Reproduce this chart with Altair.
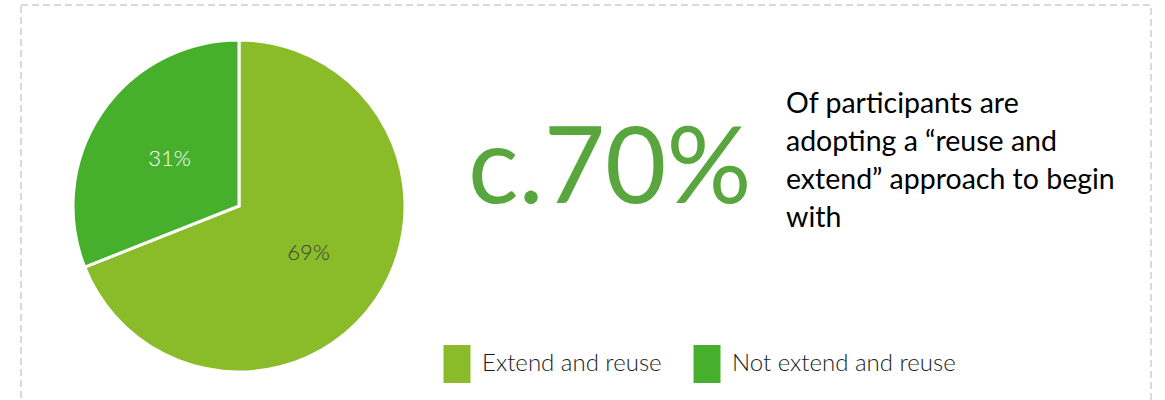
import altair as alt
import pandas as pd

categories = ["Extend and reuse", "Not extend and reuse"]
shares = [69, 31]
slice_labels = ["69%", "31%"]
colors = ["#8abb28", "#46b02c"]
headline = "c.70%"
blurb = ["Of participants are", "adopting a \u201creuse and", "extend\u201d approach to begin", "with"]

df = pd.DataFrame({
    "category": categories,
    "share": shares,
    "label": slice_labels,
    "order": list(range(len(categories))),
})
one = pd.DataFrame({"k": [0]})

frame = alt.Chart(one).mark_rect(
    fillOpacity=0, stroke="#d9d9d9", strokeWidth=2, strokeDash=[7, 4]
).encode(x=alt.value(21), x2=alt.value(1151), y=alt.value(5), y2=alt.value(430))

base = alt.Chart(df).encode(
    theta=alt.Theta("share:Q", stack=True),
    order=alt.Order("order:Q"),
)

pie = base.mark_arc(outerRadius=166, stroke="white", strokeWidth=3).encode(
    color=alt.Color(
        "category:N",
        scale=alt.Scale(domain=categories, range=colors),
        legend=alt.Legend(
            title=None,
            orient="none",
            legendX=438,
            legendY=345,
            direction="horizontal",
            symbolType="M-0.71,-1H0.71V1H-0.71Z",
            symbolSize=1444,
            symbolStrokeWidth=0,
            symbolOpacity=1,
            labelFontSize=24,
            labelFont="Lato",
            labelFontWeight=300,
            labelColor="#1a1a1a",
            labelOffset=6,
            columnPadding=26,
            labelLimit=400,
        ),
    ),
    x=alt.value(239),
    y=alt.value(206),
)

labels = base.mark_text(radius=84, fontSize=22, font="Lato", fontWeight=300).encode(
    text="label:N",
    color=alt.condition(
        alt.datum.category == categories[1], alt.value("white"), alt.value("#404040")
    ),
    x=alt.value(239),
    y=alt.value(206),
)

big = alt.Chart(one).mark_text(
    text=headline, fontSize=106, font="Lato", color="#5aa63e",
    align="left", baseline="alphabetic",
).encode(x=alt.value(468), y=alt.value(203))

para = alt.Chart(one).mark_text(
    text=blurb, fontSize=28.5, font="Lato", color="#000000",
    align="left", baseline="alphabetic", lineHeight=38,
).encode(x=alt.value(786), y=alt.value(113))

chart = alt.layer(frame, pie, labels, big, para).properties(
    width=1165, height=400, padding=0, autosize=alt.AutoSizeParams(type="none")
).configure_view(stroke=None)

chart.save("out.html", embed_options={"renderer": "svg", "actions": False})
